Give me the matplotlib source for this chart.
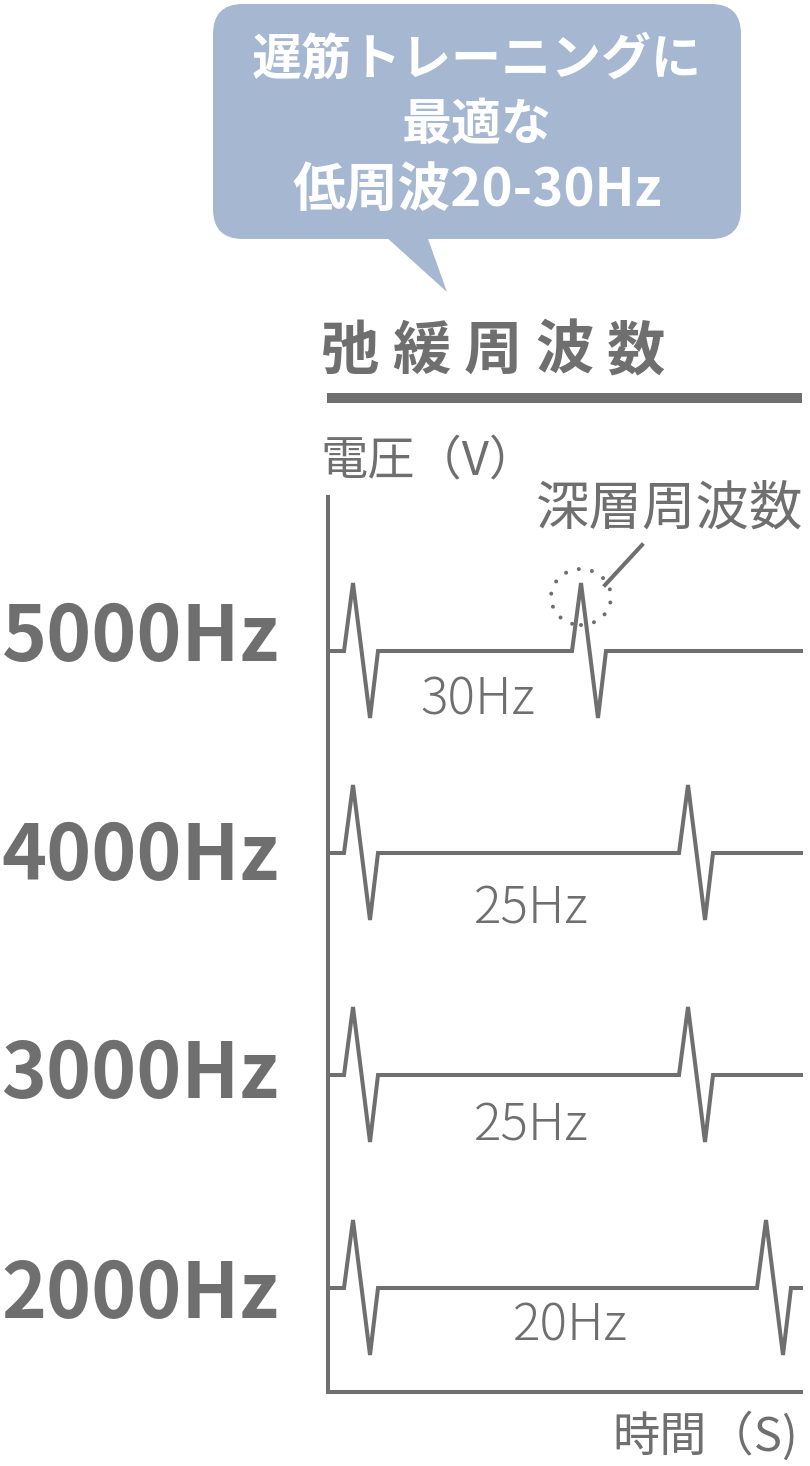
import matplotlib
matplotlib.use("Agg")
import matplotlib.pyplot as plt
from matplotlib.patches import FancyBboxPatch, Polygon, Ellipse

plt.rcParams['font.family'] = ['Noto Sans CJK JP', 'DejaVu Sans']

GRAY = "#6f6f6f"
BLUE = "#a6b7d1"

# carrier frequency per row and the burst (relaxation) frequency under it
carrier_labels = ["5000Hz", "4000Hz", "3000Hz", "2000Hz"]
burst_labels = ["30Hz", "25Hz", "25Hz", "20Hz"]
# start of every spike along the time axis (arbitrary units)
pulse_starts = [[16, 244], [16, 351], [16, 351], [16, 429]]
# shape of one spike: time offsets and voltage
spike_t = [0, 9, 26, 34]
spike_v = [0, 68, -67, 0]
t_end = 473

bubble_lines = ["遅筋トレーニングに", "最適な", "低周波20-30Hz"]
title_text = "弛緩周波数"

# layout (pixels of the 810x1466 canvas)
W, H = 810, 1466
row_base = [741, 539, 317, 104]       # baseline of each trace in chart units
label_dy = [13, -4, 0, -7]            # nudge of the left labels
burst_dy = [-49, -56, -51, -38]       # nudge of the Hz text under each trace

fig = plt.figure(figsize=(W / 100, H / 100), dpi=100)

# overlay in pixel coords for the bubble, title and axis names
deco = fig.add_axes([0, 0, 1, 1])
deco.set_xlim(0, W)
deco.set_ylim(H, 0)
deco.axis("off")

# chart area
ax = fig.add_axes([328 / W, (H - 1392) / H, 473 / W, 895 / H])
ax.set_xlim(0, t_end)
ax.set_ylim(0, 895)
ax.patch.set_alpha(0)
for side in ["top", "right"]:
    ax.spines[side].set_visible(False)
for side in ["left", "bottom"]:
    ax.spines[side].set_color(GRAY)
    ax.spines[side].set_linewidth(2.9)
ax.set_xticks([])
ax.set_yticks([])


def wave(starts):
    t, v = [0], [0]
    for s in starts:
        for dt, dv in zip(spike_t, spike_v):
            t.append(s + dt)
            v.append(dv)
    t.append(t_end)
    v.append(0)
    return t, v


for i, starts in enumerate(pulse_starts):
    t, v = wave(starts)
    base = row_base[i]
    ax.plot(t, [base + x for x in v], color=GRAY, lw=2.9,
            solid_joinstyle="miter", clip_on=False)
    # burst label between the first and second spike
    mid = (starts[0] + spike_t[-1] + starts[1]) / 2 + 3
    ax.text(mid, base + burst_dy[i], burst_labels[i], ha="center", va="center",
            fontsize=37, fontweight="light", color=GRAY)
    # carrier label on the left
    ax.text(-188, base + label_dy[i], carrier_labels[i], ha="center", va="center",
            fontsize=55, fontweight="bold", color=GRAY, clip_on=False)

# dotted circle around the deep (carrier) spike
peak_t = pulse_starts[0][1] + spike_t[1]
peak_v = row_base[0] + spike_v[1]
ax.add_patch(Ellipse((peak_t, peak_v - 14), 60, 56, fill=False, edgecolor=GRAY,
                     lw=2.9, linestyle=(0, (0.01, 3.3)), capstyle="round",
                     clip_on=False))
ax.plot([peak_t + 24, peak_t + 61], [peak_v - 2, peak_v + 38], color=GRAY,
        lw=2.9, clip_on=False)

# speech bubble
deco.add_patch(FancyBboxPatch((213, 4), 528, 235,
                              boxstyle="round,pad=0,rounding_size=30",
                              facecolor=BLUE, edgecolor="none"))
deco.add_patch(Polygon([(385, 236), (427, 236), (447, 292)], closed=True,
                       facecolor=BLUE, edgecolor="none"))
for y, line, fs in zip([60, 126, 191], bubble_lines, [36, 36, 38]):
    deco.text(477, y, line, ha="center", va="center", fontsize=fs,
              fontweight="bold", color="white")

# title with wide letter spacing and underline
for k, ch in enumerate(title_text):
    deco.text(350 + 71.5 * k, 352, ch, ha="center", va="center", fontsize=42,
              fontweight="bold", color=GRAY)
deco.plot([327, 802], [398, 398], color=GRAY, lw=7.2, solid_capstyle="butt")

# axis names
deco.text(320, 461, "電圧（V）", ha="left", va="center", fontsize=34, color=GRAY)
deco.text(612, 1437, "時間（S)", ha="left", va="center", fontsize=34, color=GRAY)
deco.text(670, 509, "深層周波数", ha="center", va="center", fontsize=38.5, color=GRAY)

fig.savefig("out.png", dpi=100)
